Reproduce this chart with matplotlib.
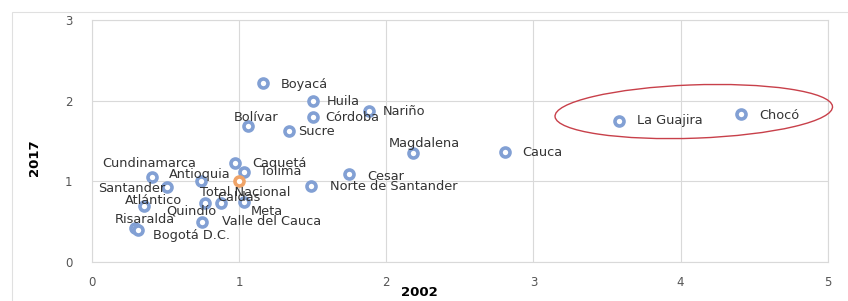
import matplotlib.pyplot as plt
from matplotlib.patches import Ellipse, Rectangle

# departamentos: valor 2002 (x) y 2017 (y)
names = ['Boyacá', 'Huila', 'Nariño', 'Córdoba', 'Bolívar', 'Sucre', 'Magdalena',
         'Cauca', 'La Guajira', 'Chocó', 'Cundinamarca', 'Caquetá', 'Tolima',
         'Antioquia', 'Santander', 'Norte de Santander', 'Cesar', 'Atlántico',
         'Quindío', 'Caldas', 'Meta', 'Valle del Cauca', 'Risaralda', 'Bogotá D.C.']
x2002 = [1.16, 1.50, 1.88, 1.50, 1.06, 1.34, 2.18, 2.81, 3.58, 4.41, 0.41, 0.97, 1.03,
         0.74, 0.51, 1.49, 1.75, 0.35, 0.77, 0.88, 1.03, 0.75, 0.29, 0.31]
y2017 = [2.22, 1.99, 1.87, 1.80, 1.69, 1.62, 1.35, 1.36, 1.75, 1.83, 1.05, 1.23, 1.12,
         1.00, 0.93, 0.94, 1.09, 0.69, 0.73, 0.73, 0.74, 0.50, 0.42, 0.40]
total_x = [1.0]
total_y = [1.0]

# label offsets in pixels (dx, dy, ha)
offs = {
    'Boyacá': (18, -2, 'left'), 'Huila': (14, 0, 'left'), 'Nariño': (14, 0, 'left'),
    'Córdoba': (13, -1, 'left'), 'Bolívar': (8, 8, 'center'), 'Sucre': (9, 0, 'left'),
    'Magdalena': (12, 10, 'center'), 'Cauca': (17, 0, 'left'), 'La Guajira': (18, 0, 'left'),
    'Chocó': (18, -1, 'left'), 'Cundinamarca': (-3, 14, 'center'), 'Caquetá': (18, -1, 'left'),
    'Tolima': (16, 0, 'left'), 'Antioquia': (-1, 7, 'center'), 'Santander': (-2, -2, 'right'),
    'Norte de Santander': (19, 0, 'left'), 'Cesar': (18, -2, 'left'), 'Atlántico': (10, 6, 'center'),
    'Quindío': (-14, -8, 'center'), 'Caldas': (17, 6, 'center'), 'Meta': (23, -9, 'center'),
    'Valle del Cauca': (20, 0, 'left'), 'Risaralda': (10, 9, 'center'), 'Bogotá D.C.': (15, -6, 'left'),
}

fig = plt.figure(figsize=(8.48, 3.01), dpi=100)
ax = fig.add_axes([0.1085, 0.1296, 0.8675, 0.804])

fig.patches.append(Rectangle((0.014, -0.1), 1.0, 1.06, transform=fig.transFigure,
                             fill=False, edgecolor='#e0e0e0', linewidth=0.8))

ax.scatter(x2002, y2017, s=42, facecolor='white', edgecolor='#82a0d4', linewidth=2.6, zorder=3)
ax.scatter(total_x, total_y, s=42, facecolor='white', edgecolor='#f0a468', linewidth=2.6, zorder=3)

for n, x, y in zip(names, x2002, y2017):
    dx, dy, ha = offs[n]
    ax.annotate(n, (x, y), xytext=(dx, dy), textcoords='offset pixels', ha=ha, va='center',
                fontsize=9.3, color='#333333', zorder=4)
ax.annotate('Total Nacional', (total_x[0], total_y[0]), xytext=(6, -11), textcoords='offset pixels',
            ha='center', va='center', fontsize=9.3, color='#333333', zorder=4)

ax.add_patch(Ellipse((4.09, 1.865), 1.89, 0.66, angle=4, fill=False, edgecolor='#c8404a',
                     linewidth=1.0, clip_on=False, zorder=5))

ax.set_xlim(0, 5)
ax.set_ylim(0, 3)
ax.set_xticks(range(6))
ax.set_yticks(range(4))
ax.grid(True, color='#d9d9d9', linewidth=0.8)
ax.set_axisbelow(True)
for s in ax.spines.values():
    s.set_color('#d9d9d9')
ax.tick_params(length=0, labelsize=8.5, colors='#555555')
ax.tick_params(axis='x', pad=10)
ax.tick_params(axis='y', pad=14)
ax.set_xlabel('2002', fontsize=9.5, fontweight='bold')
ax.xaxis.set_label_coords(0.445, -0.1)
ax.set_ylabel('2017', fontsize=9.5, fontweight='bold')
ax.yaxis.set_label_coords(-0.07, 0.43)

fig.savefig('out.png', dpi=100)
